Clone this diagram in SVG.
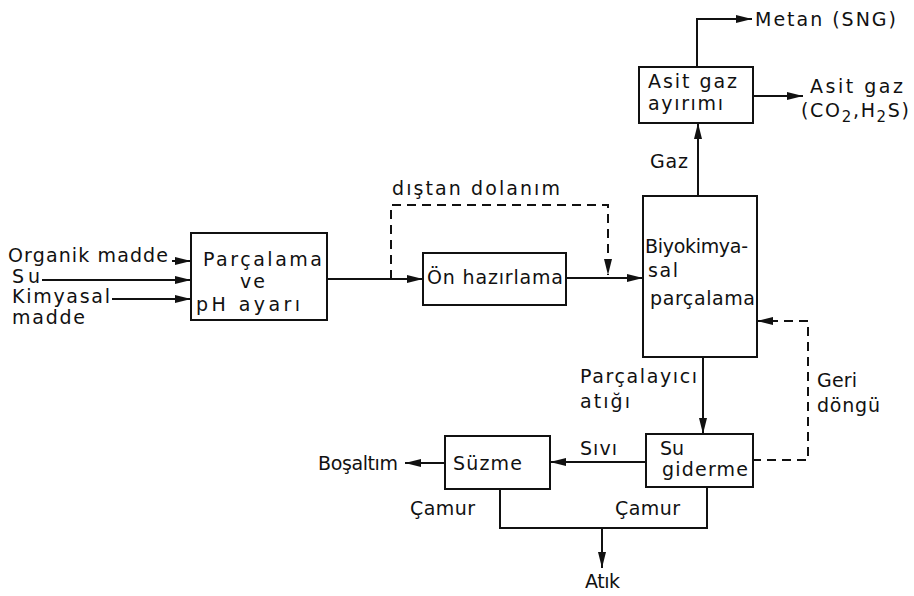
<svg xmlns="http://www.w3.org/2000/svg" width="914" height="596" viewBox="0 0 914 596">
<defs>
<marker id="ahL" viewBox="0 0 16 8" refX="16" refY="4" markerWidth="16" markerHeight="8" markerUnits="userSpaceOnUse" orient="auto">
<path d="M0,0 L16,4 L0,8 Z" fill="#111"/>
</marker>
</defs>
<style>
.box{fill:#fff;stroke:#111;stroke-width:2}
.ln{fill:none;stroke:#111;stroke-width:2}
.ds{fill:none;stroke:#111;stroke-width:2;stroke-dasharray:9,6}
text{font-family:"DejaVu Sans","Liberation Sans",Arial,sans-serif;font-size:19px;fill:#111}
.sub{font-size:15px}
</style>
<rect width="914" height="596" fill="#fff"/>
<g id="connectors">
<path class="ln" d="M697,67 V19 H752" marker-end="url(#ahL)"/>
<path class="ln" d="M753,96 H803" marker-end="url(#ahL)"/>
<path class="ln" d="M698,196 V123" marker-end="url(#ahL)"/>
<path class="ln" d="M172,261 H191" marker-end="url(#ahL)"/>
<path class="ln" d="M42,280 H191" marker-end="url(#ahL)"/>
<path class="ln" d="M112,299 H191" marker-end="url(#ahL)"/>
<path class="ln" d="M327,279 H423" marker-end="url(#ahL)"/>
<path class="ds" d="M391,279 V205 H608 V275" marker-end="url(#ahL)"/>
<path class="ln" d="M566,278 H643" marker-end="url(#ahL)"/>
<path class="ln" d="M703,357 V434" marker-end="url(#ahL)"/>
<path class="ds" d="M752,460 H808 V321 H757" marker-end="url(#ahL)"/>
<path class="ln" d="M646,462 H550" marker-end="url(#ahL)"/>
<path class="ln" d="M445,463 H405" marker-end="url(#ahL)"/>
<path class="ln" d="M500,489 V528 H707 V487"/>
<path class="ln" d="M602,528 V568" marker-end="url(#ahL)"/>
</g>
<g id="n-asit">
<rect class="box" x="639" y="67" width="114" height="56"/>
<text x="648" y="88" textLength="89" lengthAdjust="spacing">Asit gaz</text>
<text x="648" y="110" textLength="75" lengthAdjust="spacing">ayırımı</text>
</g>
<g id="n-parcalama">
<rect class="box" x="191" y="233" width="136" height="87"/>
<text x="203" y="266" textLength="119" lengthAdjust="spacing">Parçalama</text>
<text x="240" y="288" textLength="25" lengthAdjust="spacing">ve</text>
<text x="196" y="311" textLength="104" lengthAdjust="spacing">pH ayarı</text>
</g>
<g id="n-on">
<rect class="box" x="423" y="253" width="143" height="52"/>
<text x="427" y="284" textLength="136" lengthAdjust="spacing">Ön hazırlama</text>
</g>
<g id="n-biyo">
<rect class="box" x="643" y="196" width="114" height="161"/>
<text x="645" y="253" textLength="103" lengthAdjust="spacing">Biyokimya-</text>
<text x="648" y="277" textLength="30" lengthAdjust="spacing">sal</text>
<text x="650" y="305" textLength="105" lengthAdjust="spacing">parçalama</text>
</g>
<g id="n-su">
<rect class="box" x="646" y="434" width="107" height="53"/>
<text x="660" y="455">Su</text>
<text x="662" y="476" textLength="86" lengthAdjust="spacing">giderme</text>
</g>
<g id="n-suzme">
<rect class="box" x="445" y="436" width="105" height="53"/>
<text x="453" y="470" textLength="69" lengthAdjust="spacing">Süzme</text>
</g>
<g id="labels">
<text x="755" y="26" textLength="141" lengthAdjust="spacing">Metan (SNG)</text>
<text x="810" y="93" textLength="93" lengthAdjust="spacing">Asit gaz</text>
<text x="801" y="117" textLength="108" lengthAdjust="spacing">(CO<tspan class="sub" dy="5">2</tspan><tspan dy="-5">,H</tspan><tspan class="sub" dy="5">2</tspan><tspan dy="-5">S)</tspan></text>
<text x="650" y="168" textLength="38" lengthAdjust="spacing">Gaz</text>
<text x="8" y="262" textLength="160" lengthAdjust="spacing">Organik madde</text>
<text x="12" y="283" textLength="28" lengthAdjust="spacing">Su</text>
<text x="12" y="303" textLength="98" lengthAdjust="spacing">Kimyasal</text>
<text x="12" y="324" textLength="73" lengthAdjust="spacing">madde</text>
<text x="392" y="195" textLength="168" lengthAdjust="spacing">dıştan dolanım</text>
<text x="580" y="383" textLength="117" lengthAdjust="spacing">Parçalayıcı</text>
<text x="580" y="408" textLength="50" lengthAdjust="spacing">atığı</text>
<text x="817" y="387" textLength="40" lengthAdjust="spacing">Geri</text>
<text x="817" y="412" textLength="63" lengthAdjust="spacing">döngü</text>
<text x="580" y="455" textLength="37" lengthAdjust="spacing">Sıvı</text>
<text x="318" y="470" textLength="80" lengthAdjust="spacing">Boşaltım</text>
<text x="410" y="515" textLength="65" lengthAdjust="spacing">Çamur</text>
<text x="615" y="515" textLength="65" lengthAdjust="spacing">Çamur</text>
<text x="585" y="588" textLength="35" lengthAdjust="spacing">Atık</text>
</g>
</svg>
